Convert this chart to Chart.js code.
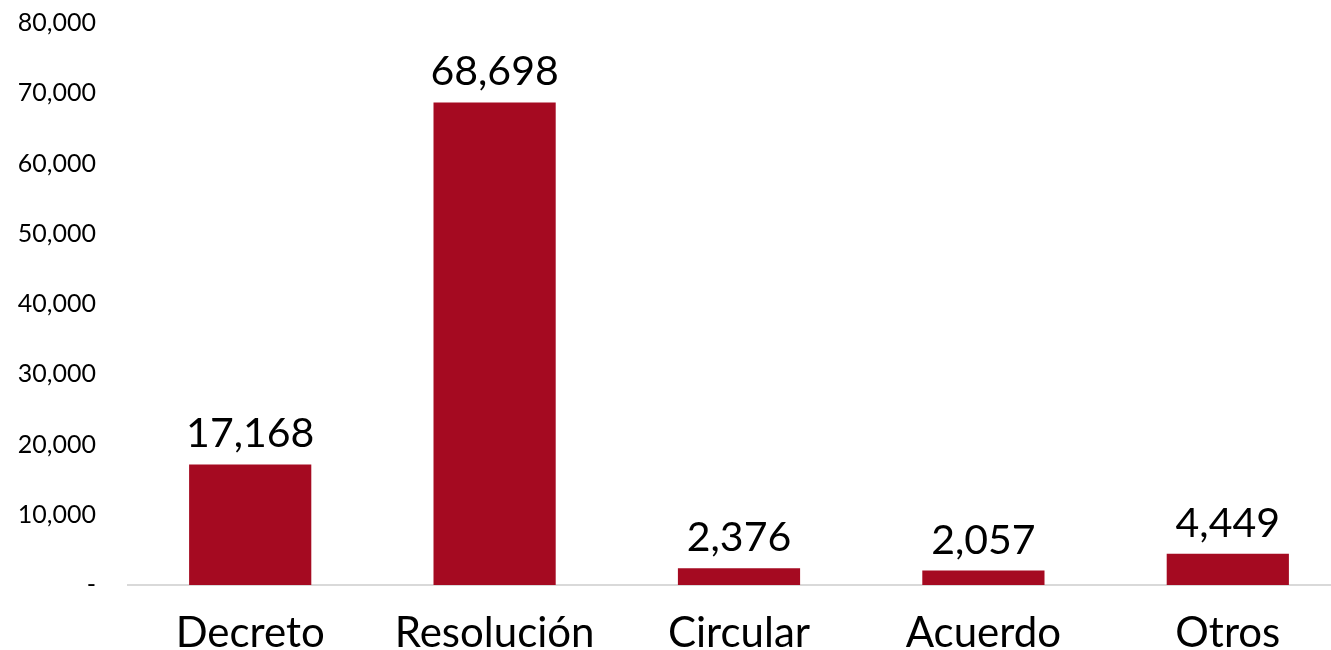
<!DOCTYPE html>
<html>
<head>
<meta charset="utf-8">
<script src="https://cdn.jsdelivr.net/npm/chart.js@4"></script>
<style>
  html, body { margin: 0; padding: 0; background: #fff; overflow: hidden; }
  #chart { display: block; }
</style>
</head>
<body>
<!-- plot area runs a little past the right edge, as in the original -->
<canvas id="chart" width="1350" height="650"></canvas>
<script>
const categories = ["Decreto", "Resolución", "Circular", "Acuerdo", "Otros"];
const values = [17168, 68698, 2376, 2057, 4449];
const yTicks = [0, 10000, 20000, 30000, 40000, 50000, 60000, 70000, 80000];

const FONT = "'Lato', 'Open Sans', sans-serif";
const BAR_COLOR = "#A50A21";

// Draws the value above each bar
const valueLabels = {
    id: "valueLabels",
    afterDatasetsDraw(chart) {
        const ctx = chart.ctx;
        const meta = chart.getDatasetMeta(0);
        ctx.save();
        ctx.font = "41px " + FONT;
        ctx.fillStyle = "#000";
        ctx.textAlign = "center";
        ctx.textBaseline = "alphabetic";
        meta.data.forEach((bar, i) => {
            ctx.fillText(values[i].toLocaleString("en-US"), bar.x, bar.y - 17);
        });
        ctx.restore();
    }
};

new Chart(document.getElementById("chart").getContext("2d"), {
    type: "bar",
    data: {
        labels: categories,
        datasets: [{
            data: values,
            backgroundColor: BAR_COLOR,
            borderWidth: 0,
            barPercentage: 0.5,
            categoryPercentage: 1
        }]
    },
    options: {
        responsive: false,
        animation: false,
        layout: { padding: { top: 23, right: 0, left: 0, bottom: 0 } },
        plugins: {
            legend: { display: false },
            tooltip: { enabled: false }
        },
        scales: {
            x: {
                grid: { display: false, drawTicks: false },
                border: { display: true, color: "#d9d9d9", width: 2 },
                ticks: {
                    color: "#000",
                    font: { family: FONT, size: 42 },
                    padding: 23,
                    maxRotation: 0
                },
                afterFit(scale) {
                    scale.height = 65;
                    scale.paddingLeft = 0;
                    scale.paddingRight = 0;
                }
            },
            y: {
                min: 0,
                max: 80000,
                afterBuildTicks(scale) {
                    scale.ticks = yTicks.map(v => ({ value: v }));
                },
                grid: { display: false, drawTicks: false },
                border: { display: false },
                ticks: {
                    color: "#000",
                    font: { family: FONT, size: 25 },
                    padding: 32,
                    callback: v => v === 0 ? "-" : v.toLocaleString("en-US")
                },
                afterFit(scale) {
                    scale.width = 128;
                    scale.paddingTop = 0;
                    scale.paddingBottom = 0;
                }
            }
        }
    },
    plugins: [valueLabels]
});
</script>
</body>
</html>
